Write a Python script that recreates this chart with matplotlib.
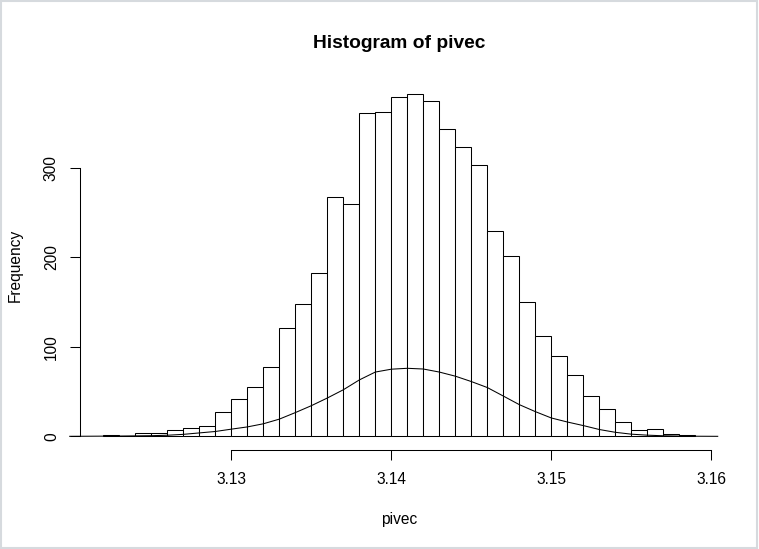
#%%
# Histograma de pivec con la curva de densidad encima (copia del grafico de R)
import numpy as np
import matplotlib.pyplot as plt
from matplotlib.patches import Rectangle

# Cortes del histograma (ancho 0.001) y frecuencias de cada barra
breaks = np.round(np.arange(3.122, 3.1595, 0.001), 3)
counts = [1, 0, 4, 4, 7, 9, 12, 27, 42, 55,
          77, 121, 148, 183, 267, 260, 361, 362, 379, 383,
          375, 343, 323, 303, 229, 201, 150, 112, 90, 69,
          45, 31, 16, 7, 8, 3, 1]

# Curva de densidad
dens_x = [3.1199, 3.121, 3.122, 3.123, 3.124, 3.125, 3.126, 3.127, 3.128, 3.129,
          3.130, 3.131, 3.132, 3.133, 3.134, 3.135, 3.136, 3.137, 3.138, 3.139,
          3.140, 3.141, 3.142, 3.143, 3.144, 3.145, 3.146, 3.147, 3.148, 3.149,
          3.150, 3.151, 3.152, 3.153, 3.154, 3.155, 3.156, 3.157, 3.158, 3.159, 3.1604]
dens_y = [0, 0.1, 0.2, 0.3, 0.5, 0.7, 1.2, 2.2, 3.8, 5.4,
          8.0, 10.5, 14.0, 19.2, 26.5, 34.2, 42.8, 52.0, 63.0, 71.8,
          75.0, 76.0, 75.2, 71.8, 67.2, 61.2, 54.5, 45.0, 35.4, 27.6,
          20.5, 16.0, 12.0, 7.6, 4.5, 2.4, 1.3, 0.6, 0.3, 0.1, 0]

xticks = [3.13, 3.14, 3.15, 3.16]
yticks = [0, 100, 200, 300]

plt.rcParams['font.family'] = ['Liberation Sans', 'DejaVu Sans']

fig = plt.figure(figsize=(7.59, 5.49), dpi=100)
ax = fig.add_axes([0.1049, 0.1803, 0.9473 - 0.1049, 0.8546 - 0.1803])

# Barras
ax.bar(breaks[:-1], counts, width=0.001, align='edge',
       facecolor='white', edgecolor='black', linewidth=0.75)

# Densidad
ax.plot(dens_x, dens_y, color='black', linewidth=0.75, clip_on=False)

ax.set_xlim(3.12052, 3.16048)
ax.set_ylim(-15.3, 398.3)

# Ejes estilo R
for s in ['top', 'right']:
    ax.spines[s].set_visible(False)
ax.spines['left'].set_bounds(0, 300)
ax.spines['bottom'].set_bounds(3.13, 3.16)
ax.spines['left'].set_linewidth(0.75)
ax.spines['bottom'].set_linewidth(0.75)

ax.set_xticks(xticks)
ax.set_xticklabels([str(t) for t in xticks])
ax.set_yticks(yticks)
ax.set_yticklabels([str(t) for t in yticks], rotation=90, va='center')
ax.tick_params(axis='both', length=6.9, width=0.75, labelsize=11.2, pad=8)
ax.tick_params(axis='x', pad=9)

ax.set_xlabel('pivec', fontsize=11.2, labelpad=18)
ax.set_ylabel('Frequency', fontsize=11.2, labelpad=15)
ax.set_title('Histogram of pivec', fontsize=13.8, fontweight='bold', pad=23)

# Borde gris de la ventana
fig.patches.append(Rectangle((0.001, 0.001), 0.997, 0.997, transform=fig.transFigure,
                             fill=False, edgecolor='#d6dade', linewidth=1.5))

fig.savefig('out.png', dpi=100)
